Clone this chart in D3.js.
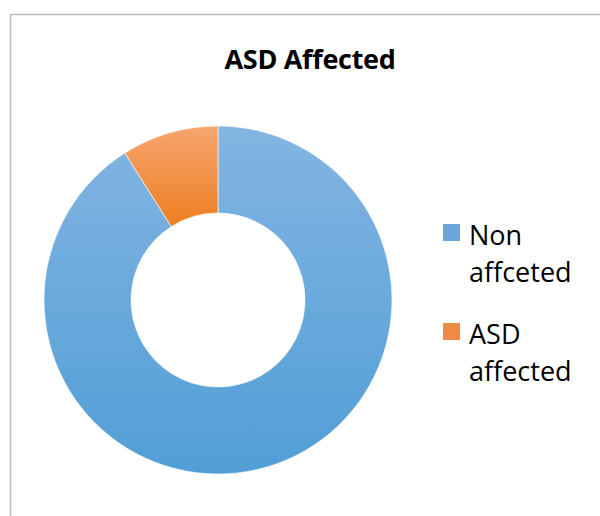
<!DOCTYPE html>
<html>
<head>
<meta charset="utf-8">
<script src="https://cdn.jsdelivr.net/npm/d3@7"></script>
<style>
  body { margin: 0; background: #fff; }
  text { font-family: "Open Sans", Lato, sans-serif; fill: #000; }
</style>
</head>
<body>
<div id="chart"></div>
<script>
// donut data
const categories = ["Non affceted", "ASD affected"];
const values = [91, 9];
const legendLines = [["Non", "affceted"], ["ASD", "affected"]];
const title = "ASD Affected";

const width = 600, height = 516;
const cx = 218, cy = 300, outerR = 174, innerR = 87;

let svg = d3.select("#chart").append("svg")
    .attr("width", width)
    .attr("height", height);

// chart frame (only left and top edges visible in the crop)
svg.append("path")
    .attr("d", "M10.5," + height + "V14.5H" + width)
    .attr("fill", "none")
    .attr("stroke", "#bcbcbc")
    .attr("stroke-width", 1.5);

svg.append("text")
    .attr("x", 310)
    .attr("y", 69)
    .attr("text-anchor", "middle")
    .attr("font-size", 27)
    .attr("font-weight", "bold")
    .attr("letter-spacing", -0.3)
    .text(title);

// vertical gradients like the office style (coords are local to the pie group)
let defs = svg.append("defs");
let grads = [
    {id: "gBlue", top: "#83b5e2", bottom: "#519ed6", y1: -outerR, y2: outerR},
    {id: "gOrange", top: "#f6a570", bottom: "#ef8024", y1: -outerR, y2: -innerR + 10}
];
grads.forEach(g => {
    let lg = defs.append("linearGradient")
        .attr("id", g.id)
        .attr("gradientUnits", "userSpaceOnUse")
        .attr("x1", 0).attr("x2", 0)
        .attr("y1", g.y1).attr("y2", g.y2);
    lg.append("stop").attr("offset", "0%").attr("stop-color", g.top);
    lg.append("stop").attr("offset", "100%").attr("stop-color", g.bottom);
});

let color = d3.scaleOrdinal()
    .domain(categories)
    .range(["url(#gBlue)", "url(#gOrange)"]);
let swatch = d3.scaleOrdinal()
    .domain(categories)
    .range(["#5b9bd5", "#ed7d31"]);

let pie = d3.pie().sort(null).value(d => d.v);
let arc = d3.arc().innerRadius(innerR).outerRadius(outerR);

let data = categories.map((c, i) => ({c: c, v: values[i]}));

svg.append("g")
    .attr("transform", "translate(" + cx + "," + cy + ")")
    .selectAll("path")
    .data(pie(data))
    .enter().append("path")
    .attr("d", arc)
    .attr("fill", d => color(d.data.c))
    .attr("stroke", "#fff")
    .attr("stroke-width", 0.6);

// legend
let legend = svg.append("g").attr("transform", "translate(443,224)");
let item = legend.selectAll("g")
    .data(categories)
    .enter().append("g")
    .attr("transform", (d, i) => "translate(0," + (i * 99) + ")");

item.append("rect")
    .attr("width", 17)
    .attr("height", 17)
    .attr("fill", d => swatch(d))
    .attr("opacity", 0.9);

item.each(function(d, i) {
    let t = d3.select(this).append("text")
        .attr("x", 26)
        .attr("y", 21)
        .attr("font-size", 27);
    legendLines[i].forEach((ln, j) => {
        t.append("tspan").attr("x", 26).attr("dy", j === 0 ? 0 : 37).text(ln);
    });
});
</script>
</body>
</html>
